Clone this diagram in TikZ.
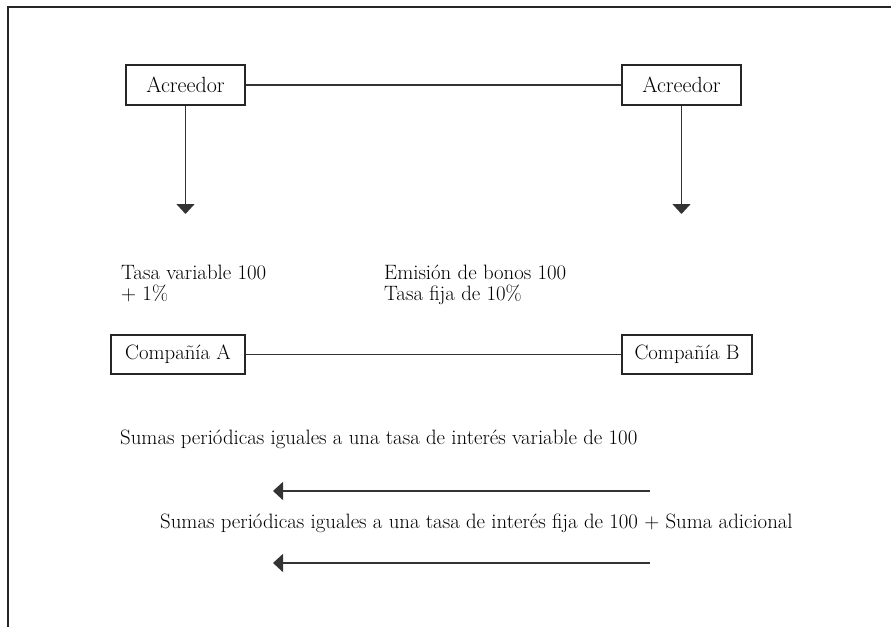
\documentclass[tikz,border=0pt]{standalone}
\usetikzlibrary{arrows.meta}
\begin{document}
\begin{tikzpicture}[x=1pt,y=-1pt,
  every node/.style={font=\fontsize{20.8}{21}\selectfont, text=black},
  box/.style={draw=black!85, line width=1.5pt, inner sep=0pt, minimum height=40pt},
  lbl/.style={anchor=base west, inner sep=0pt, align=left},
  conn/.style={draw=black!80, line width=1.5pt},
  arr/.style={conn, -{Triangle[width=18pt,length=10pt]}}]
\useasboundingbox (0,0) rectangle (891,627);
\draw[line width=1.5pt, black!85] (8,627) -- (8,7) -- (891,7);
% boxes
\node[box, minimum width=119pt, font=\fontsize{22}{22}\selectfont] (acL) at (185.5,85) {Acreedor};
\node[box, minimum width=119pt, font=\fontsize{22}{22}\selectfont] (acR) at (681.5,85) {Acreedor};
\node[box, minimum width=134pt, minimum height=39pt] (coA) at (178,354.5) {Compañía A};
\node[box, minimum width=130pt, minimum height=39pt] (coB) at (687,354.5) {Compañía B};
% connectors
\draw[conn] (acL) -- (acR);
\draw[conn] (coA) -- (coB);
\coordinate (tL) at (185.5,214);
\coordinate (tR) at (681.5,214);
\draw[arr] (acL.south) -- (tL);
\draw[arr] (acR.south) -- (tR);
% labels (base anchor = last line's baseline)
\node[lbl] (t1) at (121,300) {Tasa variable 100\\+ 1\%};
\node[lbl] (t2) at (384,300) {Emisión de bonos 100\\Tasa fija de 10\%};
\node[lbl] (s1) at (120,444) {Sumas periódicas iguales a una tasa de interés variable de 100};
\node[lbl] (s2) at (160,528) {Sumas periódicas iguales a una tasa de interés fija de 100 + Suma adicional};
% horizontal arrows
\coordinate (a1s) at (650,491);
\coordinate (a1e) at (273,491);
\coordinate (a2s) at (650,563);
\coordinate (a2e) at (273,563);
\draw[arr] (a1s) -- (a1e);
\draw[arr] (a2s) -- (a2e);
\end{tikzpicture}
\end{document}
